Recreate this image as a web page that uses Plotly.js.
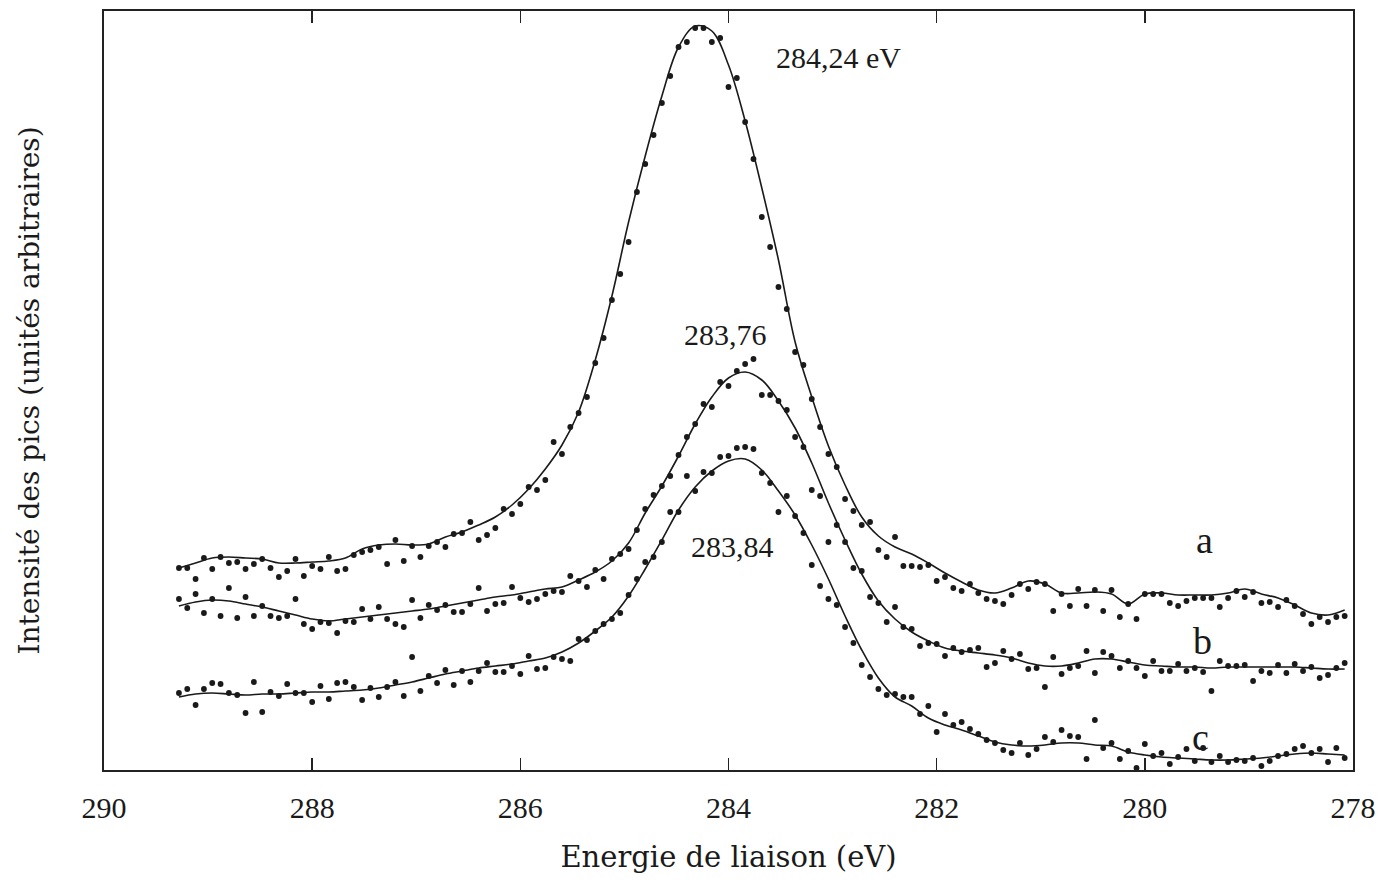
<!DOCTYPE html>
<html>
<head>
<meta charset="utf-8">
<script src="https://cdn.plot.ly/plotly-3.0.1.min.js"></script>
<style>
html, body { margin: 0; padding: 0; background: #ffffff; }
#chart { width: 1381px; height: 882px; }
</style>
</head>
<body>
<div id="chart"></div>
<script>
// Binding energy (eV) of every measured point
const energy = [
  289.28, 289.20, 289.12, 289.04, 288.96, 288.88, 288.80, 288.72, 288.64, 288.56,
  288.48, 288.40, 288.32, 288.24, 288.16, 288.08, 288.00, 287.92, 287.84, 287.76,
  287.68, 287.60, 287.52, 287.44, 287.36, 287.28, 287.20, 287.12, 287.04, 286.96,
  286.88, 286.80, 286.72, 286.64, 286.56, 286.48, 286.40, 286.32, 286.24, 286.16,
  286.08, 286.00, 285.92, 285.84, 285.76, 285.68, 285.60, 285.52, 285.44, 285.36,
  285.28, 285.20, 285.12, 285.04, 284.96, 284.88, 284.80, 284.72, 284.64, 284.56,
  284.48, 284.40, 284.32, 284.24, 284.16, 284.08, 284.00, 283.92, 283.84, 283.76,
  283.68, 283.60, 283.52, 283.44, 283.36, 283.28, 283.20, 283.12, 283.04, 282.96,
  282.88, 282.80, 282.72, 282.64, 282.56, 282.48, 282.40, 282.32, 282.24, 282.16,
  282.08, 282.00, 281.92, 281.84, 281.76, 281.68, 281.60, 281.52, 281.44, 281.36,
  281.28, 281.20, 281.12, 281.04, 280.96, 280.88, 280.80, 280.72, 280.64, 280.56,
  280.48, 280.40, 280.32, 280.24, 280.16, 280.08, 280.00, 279.92, 279.84, 279.76,
  279.68, 279.60, 279.52, 279.44, 279.36, 279.28, 279.20, 279.12, 279.04, 278.96,
  278.88, 278.80, 278.72, 278.64, 278.56, 278.48, 278.40, 278.32, 278.24, 278.16,
  278.08
];

// Measured intensities (arbitrary units), spectrum a
const seriesA = [
  20.2, 20.2, 19.1, 21.2, 20.1, 21.3, 20.7, 20.8, 20.1, 20.6,
  21.1, 20.2, 19.3, 19.9, 21.1, 19.4, 20.4, 20.1, 21.3, 19.9,
  20.1, 21.5, 21.8, 22.0, 22.3, 20.6, 23.0, 20.9, 22.4, 21.3,
  22.4, 22.8, 22.3, 23.6, 23.7, 24.8, 23.0, 23.5, 24.2, 26.1,
  25.6, 26.6, 28.3, 28.0, 29.0, 32.8, 31.6, 34.3, 35.7, 37.3,
  40.7, 43.2, 47.0, 49.6, 52.8, 57.8, 60.6, 63.5, 66.7, 69.4,
  72.3, 72.8, 74.2, 74.2, 72.8, 73.2, 68.3, 69.2, 64.8, 61.1,
  55.3, 52.3, 48.3, 46.1, 41.8, 40.5, 37.1, 34.3, 31.6, 30.3,
  27.1, 25.9, 24.5, 24.8, 22.0, 21.3, 23.3, 20.4, 20.4, 20.3,
  20.5, 18.9, 19.3, 18.2, 17.9, 18.6, 17.7, 17.1, 16.9, 16.6,
  17.5, 18.6, 18.1, 18.8, 18.6, 15.9, 17.6, 16.4, 18.1, 16.4,
  18.0, 15.9, 18.0, 15.3, 16.6, 15.1, 17.6, 17.6, 17.6, 16.7,
  16.4, 16.9, 17.2, 17.2, 17.2, 16.3, 17.2, 17.9, 17.3, 17.8,
  16.7, 16.8, 16.3, 17.0, 16.4, 15.6, 14.6, 15.3, 14.8, 15.3,
  15.4
];

// Measured intensities, spectrum b
const seriesB = [
  17.1, 16.2, 17.6, 15.7, 17.1, 15.4, 18.2, 15.2, 17.3, 15.4,
  16.4, 15.4, 15.2, 15.4, 17.1, 14.6, 14.1, 14.8, 14.7, 13.7,
  14.9, 14.8, 16.1, 15.1, 16.3, 15.1, 14.6, 14.3, 17.0, 15.2,
  16.5, 16.0, 16.5, 15.8, 15.8, 16.6, 18.2, 15.9, 16.6, 16.7,
  18.3, 17.2, 16.8, 17.1, 17.6, 17.9, 17.8, 19.4, 18.9, 18.3,
  20.0, 19.1, 21.1, 21.6, 22.1, 24.0, 26.1, 27.5, 28.4, 29.4,
  31.5, 33.3, 34.6, 36.6, 36.3, 38.8, 38.4, 39.9, 40.6, 41.1,
  37.5, 37.5, 36.9, 36.0, 33.3, 32.3, 28.0, 27.4, 22.8, 24.5,
  22.8, 20.2, 19.9, 17.3, 16.7, 14.8, 16.3, 14.3, 14.1, 12.4,
  12.7, 12.6, 11.4, 12.2, 11.8, 12.0, 12.2, 10.3, 10.7, 11.9,
  11.1, 11.6, 10.1, 10.2, 8.3, 11.3, 9.6, 10.2, 10.4, 11.9,
  9.7, 11.8, 11.4, 10.2, 10.9, 10.2, 9.4, 10.9, 9.9, 9.9,
  10.6, 9.9, 10.2, 9.8, 7.9, 10.9, 10.4, 10.4, 10.5, 8.9,
  9.9, 9.7, 10.5, 9.7, 10.6, 9.9, 10.3, 9.2, 9.5, 10.2,
  10.7
];

// Measured intensities, spectrum c
const seriesC = [
  7.7, 8.1, 6.5, 8.1, 8.7, 8.6, 7.7, 7.5, 5.7, 8.8,
  5.8, 7.8, 7.4, 8.6, 7.7, 7.7, 6.8, 8.4, 7.1, 8.7,
  8.8, 8.3, 7.0, 8.2, 7.3, 8.3, 8.8, 7.4, 11.3, 7.9,
  9.4, 8.7, 10.0, 8.5, 9.9, 8.8, 9.9, 10.7, 9.8, 9.8,
  10.4, 9.6, 11.4, 10.1, 10.2, 11.3, 11.1, 10.9, 13.1, 13.0,
  13.9, 14.6, 15.1, 15.7, 17.5, 19.1, 20.8, 21.3, 22.8, 25.8,
  25.8, 29.4, 27.9, 29.8, 29.7, 31.3, 31.4, 32.2, 32.3, 32.1,
  29.7, 28.7, 25.8, 27.4, 25.4, 23.7, 20.5, 18.4, 17.1, 16.5,
  14.3, 12.7, 10.5, 9.3, 8.1, 7.5, 7.6, 7.3, 7.3, 5.6,
  6.4, 3.8, 5.6, 4.5, 4.8, 4.1, 3.6, 3.0, 2.7, 2.0,
  1.7, 2.7, 1.5, 2.1, 3.3, 2.8, 4.0, 3.4, 3.3, 1.1,
  5.0, 2.2, 2.7, 1.1, 1.9, 0.2, 2.6, 1.4, 1.7, 0.6,
  1.3, 2.1, 0.9, 2.2, 0.8, 1.4, 0.8, 1.0, 0.9, 1.2,
  0.4, 0.9, 1.4, 1.6, 2.1, 2.4, 1.7, 2.1, 0.8, 2.2,
  1.2
];

// Energies of the smoothed (fitted) curves
const fitEnergy = [
  289.28, 289.12, 288.96, 288.80, 288.64, 288.48, 288.32, 288.16, 288.00, 287.84,
  287.68, 287.52, 287.36, 287.20, 287.04, 286.88, 286.72, 286.56, 286.40, 286.24,
  286.08, 285.92, 285.76, 285.60, 285.44, 285.28, 285.12, 284.96, 284.80, 284.64,
  284.48, 284.32, 284.16, 284.00, 283.84, 283.68, 283.52, 283.36, 283.20, 283.04,
  282.88, 282.72, 282.56, 282.40, 282.24, 282.08, 281.92, 281.76, 281.60, 281.44,
  281.28, 281.12, 280.96, 280.80, 280.64, 280.48, 280.32, 280.16, 280.00, 279.84,
  279.68, 279.52, 279.36, 279.20, 279.04, 278.88, 278.72, 278.56, 278.40, 278.24,
  278.08
];

const fitA = [
  20.2, 20.7, 21.2, 21.3, 21.2, 21.1, 20.7, 20.7, 20.8, 20.9,
  21.2, 22.1, 22.5, 22.6, 22.5, 22.6, 23.3, 23.8, 24.5, 25.3,
  26.5, 28.1, 30.1, 32.5, 35.8, 41.0, 47.4, 54.8, 61.4, 67.4,
  72.3, 74.4, 73.9, 70.5, 64.9, 58.2, 51.0, 42.8, 37.3, 32.4,
  28.5, 25.3, 23.4, 22.3, 21.6, 20.7, 19.7, 18.8, 18.0, 17.7,
  18.2, 18.9, 18.6, 17.7, 17.7, 17.8, 17.6, 16.6, 17.6, 17.7,
  17.5, 17.5, 17.5, 17.7, 18.1, 17.6, 17.2, 16.5, 15.7, 15.5,
  16.0
];

const fitB = [
  16.4, 16.8, 17.0, 16.9, 16.6, 16.3, 15.9, 15.5, 15.1, 14.9,
  15.1, 15.3, 15.5, 15.7, 15.9, 16.1, 16.4, 16.7, 17.0, 17.3,
  17.5, 17.8, 18.1, 18.3, 19.0, 19.8, 20.9, 22.7, 25.7, 28.4,
  31.4, 34.6, 37.3, 39.2, 39.8, 39.0, 36.9, 34.2, 30.7, 26.7,
  23.0, 19.6, 16.9, 15.1, 13.8, 12.9, 12.2, 11.9, 11.7, 11.5,
  11.2, 10.7, 10.4, 10.4, 10.7, 11.1, 11.1, 10.8, 10.5, 10.4,
  10.3, 10.3, 10.2, 10.3, 10.3, 10.3, 10.3, 10.3, 10.2, 10.1,
  10.1
];

const fitC = [
  7.3, 7.6, 7.7, 7.6, 7.5, 7.6, 7.6, 7.7, 7.8, 7.8,
  7.9, 8.0, 8.2, 8.5, 8.8, 9.2, 9.6, 9.9, 10.2, 10.4,
  10.6, 10.9, 11.2, 11.8, 12.7, 13.9, 15.3, 17.4, 20.1, 23.0,
  26.0, 28.3, 29.9, 30.9, 31.1, 30.0, 27.9, 25.5, 22.5, 19.1,
  15.4, 12.0, 9.2, 7.3, 6.4, 5.2, 4.5, 4.0, 3.4, 2.8,
  2.5, 2.4, 2.5, 2.7, 2.7, 2.5, 2.4, 1.8, 1.5, 1.3,
  1.2, 1.1, 1.0, 1.0, 1.1, 1.2, 1.4, 1.6, 1.7, 1.6,
  1.5
];

const tickValues = [290, 288, 286, 284, 282, 280, 278];
const tickLabels = ['290', '288', '286', '284', '282', '280', '278'];
const curveNames = ['a', 'b', 'c'];
const peakLabels = ['284,24 eV', '283,76', '283,84'];

const ink = '#1a1a1a';

function dots(y, name) {
  return {
    x: energy, y: y, type: 'scatter', mode: 'markers', name: name,
    marker: { color: ink, size: 5.8 }, hoverinfo: 'x+y'
  };
}
function fit(y, name) {
  return {
    x: fitEnergy, y: y, type: 'scatter', mode: 'lines', name: name + ' (lissage)',
    line: { color: ink, width: 1.6, shape: 'spline', smoothing: 1 }, hoverinfo: 'skip'
  };
}

const data = [
  dots(seriesA, curveNames[0]), fit(fitA, curveNames[0]),
  dots(seriesB, curveNames[1]), fit(fitB, curveNames[1]),
  dots(seriesC, curveNames[2]), fit(fitC, curveNames[2])
];

const serif = 'Liberation Serif, Times New Roman, serif';
const serifWide = 'DejaVu Serif, serif';

function note(text, x, y, size) {
  return { text: text, x: x, y: y, xref: 'x', yref: 'y', showarrow: false,
           xanchor: 'center', yanchor: 'middle',
           font: { family: serif, size: size, color: ink } };
}

const layout = {
  width: 1381, height: 882,
  margin: { l: 104, r: 28, t: 11, b: 112 },
  paper_bgcolor: '#ffffff', plot_bgcolor: '#ffffff',
  showlegend: false,
  xaxis: {
    range: [290, 278],
    tickmode: 'array', tickvals: tickValues, ticktext: tickLabels,
    ticks: 'inside', ticklen: 12, tickwidth: 1.6, tickcolor: '#222',
    showline: true, linewidth: 2.2, linecolor: '#222', mirror: 'ticks',
    showgrid: false, zeroline: false,
    tickfont: { family: serif, size: 30, color: ink },
    ticklabelstandoff: 10,
    title: { text: 'Energie de liaison (eV)', standoff: 24,
             font: { family: serifWide, size: 29, color: ink } }
  },
  yaxis: {
    range: [0, 75.9],
    showticklabels: false, ticks: '',
    showline: true, linewidth: 2.2, linecolor: '#222', mirror: true,
    showgrid: false, zeroline: false,
    title: { text: 'Intensité des pics (unités arbitraires)', standoff: 54,
             font: { family: serifWide, size: 28, color: ink } }
  },
  annotations: [
    note(peakLabels[0], 282.94, 71.3, 30),
    note(peakLabels[1], 284.03, 43.6, 30),
    note(peakLabels[2], 283.96, 22.4, 30),
    note(curveNames[0], 279.43, 23.0, 38),
    note(curveNames[1], 279.45, 12.9, 38),
    note(curveNames[2], 279.47, 3.3, 38)
  ]
};

Plotly.newPlot('chart', data, layout, { displayModeBar: false, staticPlot: true });
</script>
</body>
</html>
